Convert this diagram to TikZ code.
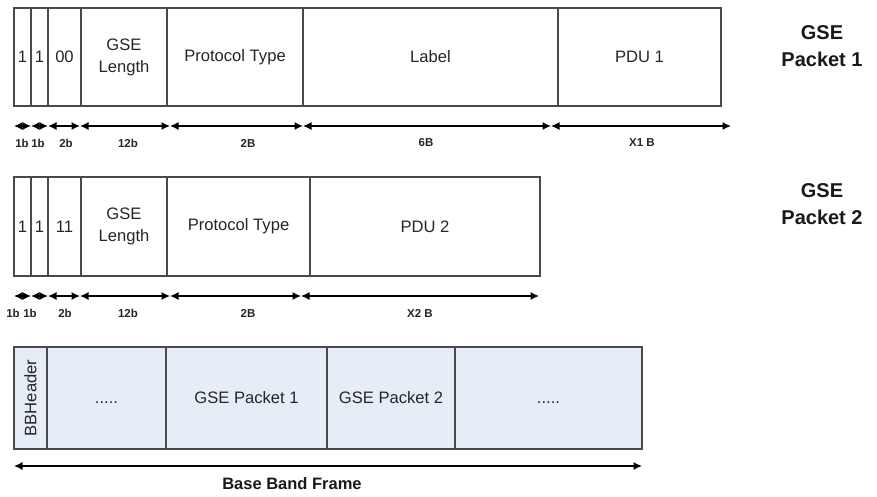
\documentclass[tikz,border=0pt]{standalone}
\usepackage{fontspec}
\setmainfont{Liberation Sans}
\usetikzlibrary{arrows.meta}
\definecolor{edge}{HTML}{4A4A4A}
\definecolor{bbfill}{HTML}{E7EDF6}
\tikzset{
 fld/.style={draw=edge, line width=1.1pt, inner sep=0pt, align=center, font=\fontsize{16.6}{22}\selectfont, text=black!85},
 bbf/.style={fld, fill=bbfill},
 dim/.style={line width=1.4pt, {Latex[length=8.5pt,width=8pt]}-{Latex[length=8.5pt,width=8pt]}},
 dlab/.style={font=\fontsize{11.5}{13}\selectfont\bfseries, inner sep=0pt, text=black!85},
 ttl/.style={font=\fontsize{20}{27}\selectfont\bfseries, align=center, inner sep=0pt, text=black!90},
}
\newcommand\fieldbox[7][fld]{\node[#1, minimum width={(#4-#3)*1pt}, minimum height={(#6-#5)*1pt}] (#2) at ({(#3+#4)/2},{(#5+#6)/2}) {#7};}
\begin{document}
\begin{tikzpicture}[x=1pt,y=-1pt]
\useasboundingbox (0,0) rectangle (877,496);
% ---------- GSE packet 1
\fieldbox{p1a}{14}{31}{8}{106}{1}
\fieldbox{p1b}{31}{48}{8}{106}{1}
\fieldbox{p1c}{48}{81}{8}{106}{00}
\fieldbox{p1d}{81}{167}{8}{106}{GSE\\Length}
\fieldbox{p1e}{167}{303}{8}{106}{Protocol Type}
\fieldbox{p1f}{303}{558}{8}{106}{Label}
\fieldbox{p1g}{558}{721}{8}{106}{PDU 1}
\node[ttl] (t1) at (822,46.5) {GSE\\Packet 1};
% dimension arrows packet 1
\foreach \n/\x in {0/14,1/31,2/48,3/80,4/170,5/303,6/551,7/731}
  \coordinate (u\n) at (\x,126);
\draw[dim] (u0) -- (u1);
\draw[dim] (u1) -- (u2);
\draw[dim] (u2) -- (u3);
\draw[dim] (u3) -- (u4);
\draw[dim] (u4) -- (u5);
\draw[dim] (u5) -- (u6);
\draw[dim] (u6) -- (u7);
\node[dlab] (l1a) at (22,143) {1b};
\node[dlab] (l1b) at (38,143) {1b};
\node[dlab] (l1c) at (66,143) {2b};
\node[dlab] (l1d) at (128,143) {12b};
\node[dlab] (l1e) at (248,143) {2B};
\node[dlab] (l1f) at (426,143) {6B};
\node[dlab] (l1g) at (642,143) {X1 B};
% ---------- GSE packet 2
\fieldbox{p2a}{14}{31}{177}{276}{1}
\fieldbox{p2b}{31}{48}{177}{276}{1}
\fieldbox{p2c}{48}{81}{177}{276}{11}
\fieldbox{p2d}{81}{167}{177}{276}{GSE\\Length}
\fieldbox{p2e}{167}{310}{177}{276}{Protocol Type}
\fieldbox{p2f}{310}{540}{177}{276}{PDU 2}
\node[ttl] (t2) at (822,204) {GSE\\Packet 2};
\foreach \n/\x in {0/14,1/31,2/48,3/80,4/170,5/301,6/539}
  \coordinate (v\n) at (\x,296);
\draw[dim] (v0) -- (v1);
\draw[dim] (v1) -- (v2);
\draw[dim] (v2) -- (v3);
\draw[dim] (v3) -- (v4);
\draw[dim] (v4) -- (v5);
\draw[dim] (v5) -- (v6);
\node[dlab] (l2a) at (13,313) {1b};
\node[dlab] (l2b) at (30,313) {1b};
\node[dlab] (l2c) at (65,313) {2b};
\node[dlab] (l2d) at (128,313) {12b};
\node[dlab] (l2e) at (248,313) {2B};
\node[dlab] (l2f) at (420,313) {X2 B};
% ---------- Base band frame
\fieldbox[bbf]{b0}{14}{47}{347}{449}{\rotatebox{90}{BBHeader}}
\fieldbox[bbf]{b1}{47}{166}{347}{449}{\vphantom{S}.....}
\fieldbox[bbf]{b2}{166}{327}{347}{449}{GSE Packet 1}
\fieldbox[bbf]{b3}{327}{455}{347}{449}{GSE Packet 2}
\fieldbox[bbf]{b4}{455}{642}{347}{449}{\vphantom{S}.....}
\coordinate (w0) at (14,466);
\coordinate (w1) at (642,466);
\draw[dim] (w0) -- (w1);
\node[font=\fontsize{16.5}{20}\selectfont\bfseries, inner sep=0pt, text=black!90] (bbl) at (292,484) {Base Band Frame};
\end{tikzpicture}
\end{document}
